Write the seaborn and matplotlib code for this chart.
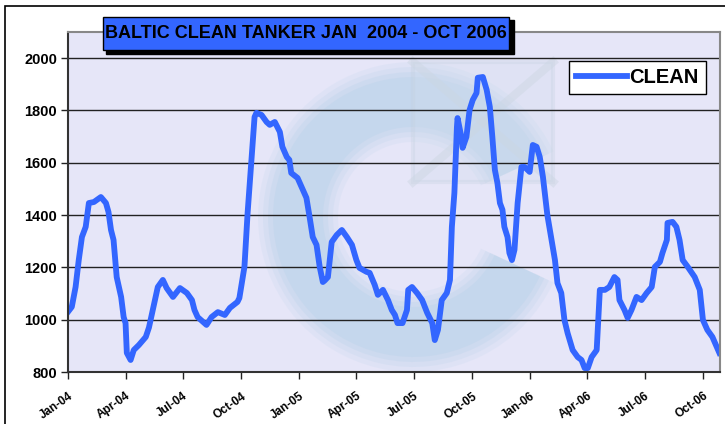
import numpy as np
import pandas as pd
import matplotlib
matplotlib.use('Agg')
import matplotlib.pyplot as plt
import matplotlib.dates as mdates
from matplotlib.patches import Rectangle, Wedge
import seaborn as sns

# Baltic clean tanker index
dates = [
    '2004-01-01', '2004-01-07', '2004-01-13', '2004-01-18', '2004-01-23', '2004-01-29',
    '2004-02-03', '2004-02-11', '2004-02-22', '2004-03-01', '2004-03-05', '2004-03-09',
    '2004-03-13', '2004-03-18', '2004-03-25', '2004-03-29', '2004-04-01', '2004-04-03',
    '2004-04-09', '2004-04-14', '2004-04-22', '2004-05-03', '2004-05-08', '2004-05-14',
    '2004-05-22', '2004-05-30', '2004-06-05', '2004-06-15', '2004-06-26', '2004-07-07',
    '2004-07-15', '2004-07-19', '2004-07-24', '2004-08-07', '2004-08-15', '2004-08-25',
    '2004-09-05', '2004-09-13', '2004-09-25', '2004-09-28', '2004-10-06', '2004-10-11',
    '2004-10-17', '2004-10-22', '2004-10-25', '2004-11-02', '2004-11-10', '2004-11-15',
    '2004-11-23', '2004-12-01', '2004-12-05', '2004-12-12', '2004-12-16', '2004-12-19',
    '2004-12-29', '2005-01-05', '2005-01-12', '2005-01-17', '2005-01-22', '2005-01-28',
    '2005-02-02', '2005-02-07', '2005-02-10', '2005-02-15', '2005-02-21', '2005-03-01',
    '2005-03-09', '2005-03-17', '2005-03-25', '2005-04-01', '2005-04-06', '2005-04-17',
    '2005-04-22', '2005-04-30', '2005-05-05', '2005-05-13', '2005-05-21', '2005-05-27',
    '2005-06-01', '2005-06-05', '2005-06-13', '2005-06-20', '2005-06-22', '2005-06-28',
    '2005-07-06', '2005-07-14', '2005-07-22', '2005-07-30', '2005-08-03', '2005-08-08',
    '2005-08-14', '2005-08-22', '2005-08-27', '2005-08-30', '2005-09-03', '2005-09-07',
    '2005-09-08', '2005-09-14', '2005-09-16', '2005-09-22', '2005-09-27', '2005-10-02',
    '2005-10-08', '2005-10-10', '2005-10-18', '2005-10-24', '2005-10-29', '2005-11-02',
    '2005-11-06', '2005-11-10', '2005-11-14', '2005-11-18', '2005-11-21', '2005-11-26',
    '2005-11-29', '2005-12-03', '2005-12-07', '2005-12-12', '2005-12-18', '2005-12-23',
    '2005-12-31', '2006-01-05', '2006-01-11', '2006-01-16', '2006-01-21', '2006-01-28',
    '2006-02-04', '2006-02-09', '2006-02-13', '2006-02-19', '2006-02-24', '2006-03-01',
    '2006-03-09', '2006-03-17', '2006-03-23', '2006-03-28', '2006-04-02', '2006-04-08',
    '2006-04-16', '2006-04-21', '2006-04-29', '2006-05-06', '2006-05-14', '2006-05-19',
    '2006-05-22', '2006-05-30', '2006-06-04', '2006-06-10', '2006-06-18', '2006-06-26',
    '2006-07-04', '2006-07-12', '2006-07-17', '2006-07-25', '2006-07-29', '2006-08-05',
    '2006-08-06', '2006-08-14', '2006-08-20', '2006-08-25', '2006-08-30', '2006-09-07',
    '2006-09-18', '2006-09-26', '2006-10-01', '2006-10-08', '2006-10-16', '2006-10-27',
]
clean = [
    1030, 1049, 1125, 1228, 1316, 1355,
    1446, 1450, 1469, 1446, 1412, 1343,
    1305, 1163, 1087, 1010, 987, 873,
    846, 884, 903, 934, 970, 1037,
    1125, 1152, 1121, 1087, 1121, 1102,
    1075, 1037, 1010, 980, 1010, 1029,
    1018, 1045, 1068, 1083, 1202, 1408,
    1611, 1775, 1791, 1783, 1756, 1745,
    1756, 1718, 1661, 1622, 1611, 1561,
    1542, 1504, 1466, 1393, 1316, 1286,
    1202, 1144, 1150, 1163, 1297, 1324,
    1343, 1316, 1286, 1228, 1198, 1183,
    1179, 1133, 1095, 1114, 1075, 1037,
    1018, 987, 987, 1037, 1114, 1125,
    1102, 1075, 1026, 987, 922, 961,
    1075, 1102, 1152, 1355, 1485, 1737,
    1771, 1699, 1657, 1699, 1802, 1840,
    1867, 1925, 1928, 1879, 1814, 1699,
    1573, 1523, 1446, 1420, 1355, 1316,
    1255, 1228, 1267, 1446, 1584, 1584,
    1565, 1668, 1661, 1622, 1546, 1400,
    1300, 1228, 1140, 1102, 999, 949,
    884, 857, 846, 815, 815, 857,
    884, 1114, 1114, 1125, 1163, 1152,
    1075, 1037, 1007, 1037, 1087, 1075,
    1102, 1125, 1202, 1221, 1255, 1305,
    1370, 1374, 1355, 1305, 1228, 1202,
    1163, 1114, 999, 961, 934, 873,
]
y_ticks = [800, 1000, 1200, 1400, 1600, 1800, 2000]
title = 'BALTIC CLEAN TANKER JAN  2004 - OCT 2006'

df = pd.DataFrame({'date': pd.to_datetime(dates), 'value': clean})

W, H = 725, 424
fig = plt.figure(figsize=(W / 100, H / 100), dpi=100)
fig.patch.set_facecolor('white')

def fx(px):
    return px / W

def fy(py):
    return 1 - py / H

# outer chart frame
fig.patches.append(Rectangle((fx(5), fy(430)), fx(735) - fx(5), fy(6) - fy(430),
                             transform=fig.transFigure, fill=False,
                             edgecolor='black', linewidth=1.2, zorder=0))

rect = [fx(68), fy(372), fx(720) - fx(68), fy(32) - fy(372)]

# background axes: plot area colour plus faint logo watermark
bg = fig.add_axes(rect, zorder=0)
bg.set_xlim(0, 652)
bg.set_ylim(340, 0)
bg.set_axis_off()
bg.add_patch(Rectangle((0, 0), 652, 340, color='#E6E6F8', zorder=0))
# soft ring, built from several wedges to fake a blurred edge
for r, w, a in [(155, 80, 0.12), (150, 70, 0.15), (145, 60, 0.18), (140, 50, 0.2)]:
    bg.add_patch(Wedge((345, 185), r, 25, 335, width=w, color='#A9CCE6',
                       alpha=a, lw=0))
bg.add_patch(Rectangle((345, 30), 140, 120, facecolor='#D0DCEC', alpha=0.3,
                       edgecolor='#C4D0DE', lw=3))
bg.plot([345, 485], [30, 150], color='#CCD6E2', lw=6, alpha=0.45)
bg.plot([345, 485], [150, 30], color='#CCD6E2', lw=6, alpha=0.45)

ax = fig.add_axes(rect, zorder=1)
ax.patch.set_alpha(0)

sns.lineplot(data=df, x='date', y='value', ax=ax, color='#3366FF',
             linewidth=4.2, label='CLEAN', solid_joinstyle='round')

ax.set_xlim(pd.Timestamp('2004-01-01'), pd.Timestamp('2006-10-28'))
ax.set_ylim(800, 2100)
ax.set_yticks(y_ticks)
ax.yaxis.grid(True, color='#222222', linewidth=1)
ax.xaxis.grid(False)
ax.set_axisbelow(True)

ax.xaxis.set_major_locator(mdates.MonthLocator(bymonth=[1, 4, 7, 10]))
ax.xaxis.set_major_formatter(mdates.DateFormatter('%b-%y'))
ax.set_xlabel('')
ax.set_ylabel('')

for lab in ax.get_yticklabels():
    lab.set_fontfamily('Liberation Sans')
    lab.set_fontweight('bold')
    lab.set_fontsize(10.5)
for lab in ax.get_xticklabels():
    lab.set_fontfamily('Liberation Sans')
    lab.set_fontweight('bold')
    lab.set_fontsize(8.5)
    lab.set_rotation(35)
    lab.set_ha('right')
    lab.set_rotation_mode('anchor')
ax.tick_params(axis='y', length=5, width=1, pad=3, color='#222222')
ax.tick_params(axis='x', length=5, width=1, pad=8, color='#222222')

ax.spines['left'].set_color('#333333')
ax.spines['bottom'].set_color('#333333')
ax.spines['left'].set_linewidth(1.5)
ax.spines['bottom'].set_linewidth(1.5)
ax.spines['top'].set_color('#888888')
ax.spines['right'].set_color('#888888')
ax.spines['top'].set_linewidth(1.5)
ax.spines['right'].set_linewidth(1.5)

leg = ax.legend(loc='upper right', bbox_to_anchor=(fx(706), fy(61)),
                bbox_transform=fig.transFigure, frameon=True, fancybox=False,
                prop={'family': 'Liberation Sans', 'weight': 'bold', 'size': 14.5},
                handlelength=2.5, handletextpad=0.15, borderpad=0.35,
                borderaxespad=0)
leg.get_frame().set_edgecolor('black')
leg.get_frame().set_linewidth(1)
leg.get_frame().set_alpha(1)

# title box with drop shadow
fig.patches.append(Rectangle((fx(106), fy(54)), fx(514) - fx(106), fy(20) - fy(54),
                             transform=fig.transFigure, facecolor='black',
                             edgecolor='black', zorder=5))
fig.patches.append(Rectangle((fx(103), fy(50)), fx(509) - fx(103), fy(17) - fy(50),
                             transform=fig.transFigure, facecolor='#3366FF',
                             edgecolor='black', linewidth=1, zorder=6))
fig.text(fx(306), fy(34), title, ha='center', va='center', zorder=7,
         fontfamily='Liberation Sans', fontweight='bold', fontsize=13)

fig.savefig('out.png', dpi=100)
